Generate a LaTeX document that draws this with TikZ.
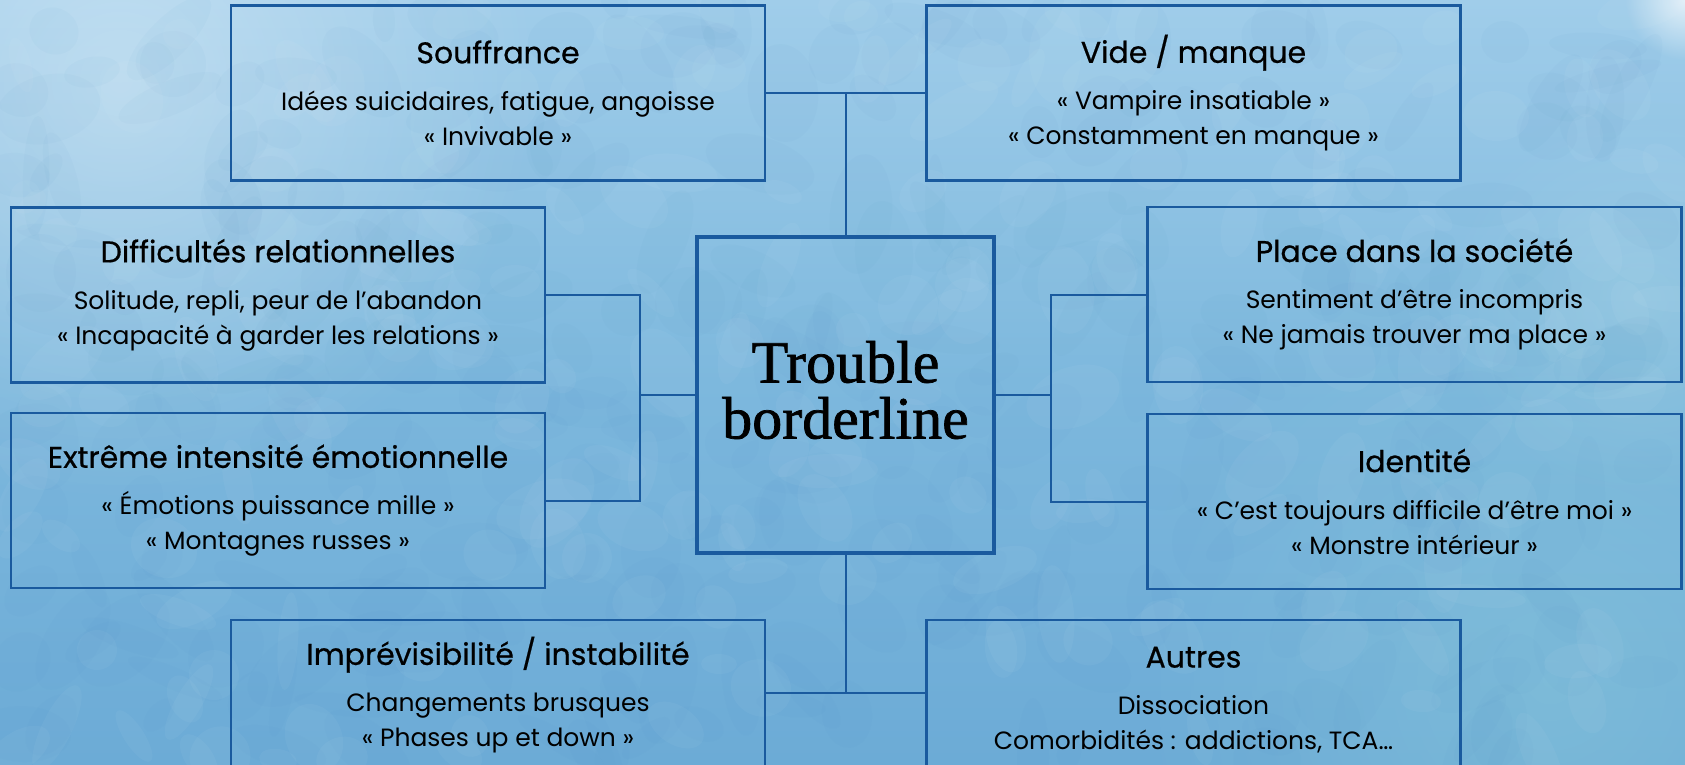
\documentclass[tikz,border=0pt]{standalone}
\usepackage{fontspec}
\setmainfont{Poppins}
\newfontfamily\titlefont{Poppins}[FakeBold=0.6]
\newfontfamily\centerserif{Liberation Serif}[FakeBold=1.2]
\usetikzlibrary{fadings}
\tikzfading[name=softblob, inner color=transparent!0, outer color=transparent!100]
\definecolor{boxblue}{HTML}{1A5A9E}
\definecolor{bgtop}{HTML}{A0CDEA}
\definecolor{bgmid}{HTML}{7DB8DD}
\definecolor{bgbot}{HTML}{6CABD6}
\definecolor{bgteal}{HTML}{86C4DA}
\definecolor{bgdark}{HTML}{4F8FC4}
\newcommand\cardtitle[1]{{\titlefont\fontsize{30}{36}\selectfont #1}\\[12pt]}
\begin{document}
\begin{tikzpicture}[x=1pt,y=-1pt,
  card/.style={draw=boxblue, line width=2.6pt, minimum width=534pt, minimum height=175pt,
    align=center, inner sep=0pt, font=\fontsize{25}{35}\selectfont, text=black},
  hub/.style={draw=boxblue, line width=3.2pt, minimum width=297pt, minimum height=316pt},
  hubtext/.style={align=center, inner sep=0pt, font=\centerserif\fontsize{60}{56}\selectfont},
  link/.style={draw=boxblue, line width=2pt}]
% background
\path[use as bounding box] (0,0) rectangle (1685,764);
\begin{scope}
\clip (0,0) rectangle (1685,764);
\shade[top color=bgtop, bottom color=bgbot, middle color=bgmid] (0,0) rectangle (1685,764);
\fill[white, opacity=0.35, path fading=softblob] (120,80) circle[radius=420];
\fill[bgteal, opacity=0.6, path fading=softblob] (1550,680) circle[radius=420];
\fill[bgteal!70!white, opacity=0.4, path fading=softblob] (1640,300) circle[radius=200];
\fill[white, opacity=0.7, path fading=softblob] (1685,0) circle[radius=60];
\pgfmathsetseed{7}
\foreach \i in {1,...,320}{
  \pgfmathsetmacro\xx{random(0,1685)}
  \pgfmathsetmacro\yy{random(0,764)}
  \pgfmathsetmacro\rx{random(15,60)}
  \pgfmathsetmacro\ry{random(10,35)}
  \pgfmathsetmacro\rot{random(0,180)}
  \fill[bgdark, opacity=0.04] (\xx,\yy) ellipse[x radius=\rx, y radius=\ry, rotate=\rot];
}
\foreach \i in {1,...,200}{
  \pgfmathsetmacro\xx{random(0,1685)}
  \pgfmathsetmacro\yy{random(0,764)}
  \pgfmathsetmacro\rx{random(15,50)}
  \pgfmathsetmacro\ry{random(10,30)}
  \pgfmathsetmacro\rot{random(0,180)}
  \fill[white, opacity=0.04] (\xx,\yy) ellipse[x radius=\rx, y radius=\ry, rotate=\rot];
}
\end{scope}

% nodes
\node[hub] (center) at (845.5,395) {};
\node[hubtext] (centertext) at (845.5,390) {Trouble\\borderline};
\node[card] (souf) at (498,93) {\cardtitle{Souffrance}Idées suicidaires, fatigue, angoisse\\« Invivable »};
\node[card] (vide) at (1193.5,93) {\cardtitle{Vide / manque}« Vampire insatiable »\\« Constamment en manque »};
\node[card] (diff) at (278,295) {\cardtitle{Difficultés relationnelles}Solitude, repli, peur de l’abandon\\« Incapacité à garder les relations »};
\node[card] (extr) at (278,500.5) {\cardtitle{Extrême intensité émotionnelle}« Émotions puissance mille »\\« Montagnes russes »};
\node[card] (place) at (1414.5,294.5) {\cardtitle{Place dans la société}Sentiment d’être incompris\\« Ne jamais trouver ma place »};
\node[card] (ident) at (1414.5,501.5) {\cardtitle{Identité}« C’est toujours difficile d’être moi »\\« Monstre intérieur »};
\node[card, minimum height=150pt] (impr) at (498,695) {\cardtitle{Imprévisibilité / instabilité}Changements brusques\\« Phases up et down »};
\node[card, minimum height=160pt] (autres) at (1193.5,700) {\cardtitle{Autres}Dissociation\\Comorbidités : addictions, TCA…};

% connectors
\coordinate (lj) at (640,395);
\coordinate (rj) at (1051,395);
\coordinate (bj) at (845.5,693);
\draw[link] (souf.east) -- (vide.west);
\draw[link] (center.north) -- (center.north |- souf.east);
\draw[link] (diff.east) -| (lj) |- (extr.east);
\draw[link] (lj) -- (center.west);
\draw[link] (place.west) -| (rj) |- (ident.west);
\draw[link] (rj) -- (center.east);
\draw[link] (center.south) -- (bj);
\draw[link] (impr.east |- bj) -- (autres.west |- bj);
\end{tikzpicture}
\end{document}
